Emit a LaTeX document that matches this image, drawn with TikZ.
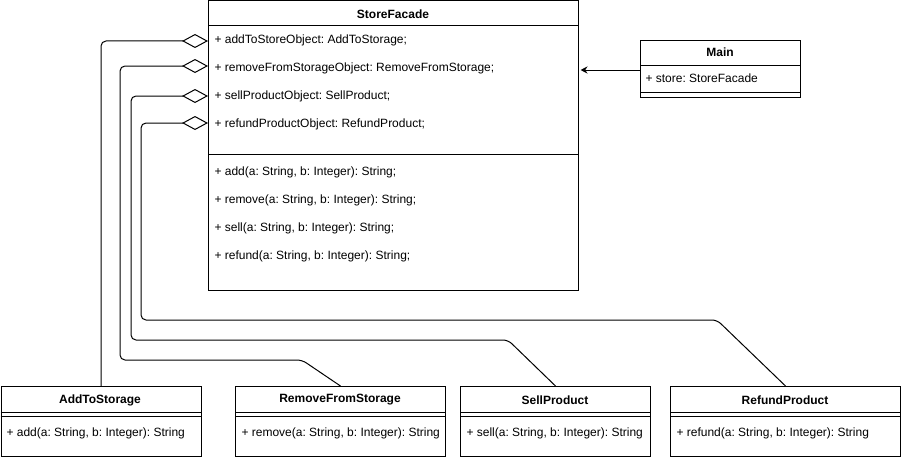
\documentclass[tikz,border=0pt]{standalone}
\usepackage{fontspec}
\setmainfont{Liberation Sans}
\frenchspacing
\usetikzlibrary{arrows.meta,positioning,calc}

\begin{document}
\begin{tikzpicture}[
    x=1pt, y=-1pt, line width=1pt,
    font=\fontsize{12}{14}\selectfont,
    cls/.style={rectangle, draw, anchor=north west, inner sep=0pt},
    title/.style={font=\fontsize{12}{14}\selectfont\bfseries},
    member/.style={anchor=west, inner sep=0pt},
    agg/.style={-{Diamond[open, length=26pt, width=14pt]}, rounded corners=5pt},
    assoc/.style={-{Stealth[length=7pt, width=7pt]}, shorten >=1.5pt}
]
    \useasboundingbox (0,0) rectangle (901,460);

    % Facade
    \node[cls, minimum width=370pt, minimum height=289.5pt] (sf) at (208,0.5) {};
    \node[title] (sft) at (393,14) {StoreFacade};
    \draw (208,26) -- (578,26);
    \draw (208,154) -- (578,154);
    \node[member] (a1) at (214,40) {+ addToStoreObject: AddToStorage;};
    \node[member] (a2) at (214,68) {+ removeFromStorageObject: RemoveFromStorage;};
    \node[member] (a3) at (214,96) {+ sellProductObject: SellProduct;};
    \node[member] (a4) at (214,124) {+ refundProductObject: RefundProduct;};
    \node[member] (m1) at (214,172) {+ add(a: String, b: Integer): String;};
    \node[member] (m2) at (214,200) {+ remove(a: String, b: Integer): String;};
    \node[member] (m3) at (214,228) {+ sell(a: String, b: Integer): String;};
    \node[member] (m4) at (214,256) {+ refund(a: String, b: Integer): String;};

    % Main
    \node[cls, minimum width=160pt, minimum height=57pt] (main) at (640,40) {};
    \node[title] (maint) at (720,52) {Main};
    \draw (640,65) -- (800,65);
    \draw (640,92) -- (800,92);
    \node[member] (ms) at (645,78) {+ store: StoreFacade};

    % Subsystems
    \node[cls, minimum width=200pt, minimum height=70pt] (add) at (0.5,386) {};
    \node[title] at (100,400) {AddToStorage};
    \draw (0.5,412) -- (200.5,412);
    \draw (0.5,416) -- (200.5,416);
    \node[member] at (6,433) {+ add(a: String, b: Integer): String};

    \node[cls, minimum width=210pt, minimum height=70pt] (rfs) at (235,386) {};
    \node[title] at (340,400) {RemoveFromStorage};
    \draw (235,412) -- (445,412);
    \draw (235,416) -- (445,416);
    \node[member] at (241,433) {+ remove(a: String, b: Integer): String};

    \node[cls, minimum width=190pt, minimum height=70pt] (sell) at (460,386) {};
    \node[title] at (555,400) {SellProduct};
    \draw (460,412) -- (650,412);
    \draw (460,416) -- (650,416);
    \node[member] at (466,433) {+ sell(a: String, b: Integer): String};

    \node[cls, minimum width=230pt, minimum height=70pt] (ref) at (670,386) {};
    \node[title] at (785,400) {RefundProduct};
    \draw (670,412) -- (900,412);
    \draw (670,416) -- (900,416);
    \node[member] at (676,433) {+ refund(a: String, b: Integer): String};

    % Aggregations
    \draw[agg] (add.north) |- (sf.west |- 0,41);
    \draw[agg] (rfs.north) -- (302,360) -- (120,360) |- (sf.west |- 0,66);
    \draw[agg] (sell.north) -- (508,340) -- (131,340) |- (sf.west |- 0,96);
    \draw[agg] (ref.north) -- (717,320) -- (141,320) |- (sf.west |- 0,123);

    % Association
    \draw[assoc] (main.west |- 0,70) -- (sf.east |- 0,70);
\end{tikzpicture}
\end{document}
